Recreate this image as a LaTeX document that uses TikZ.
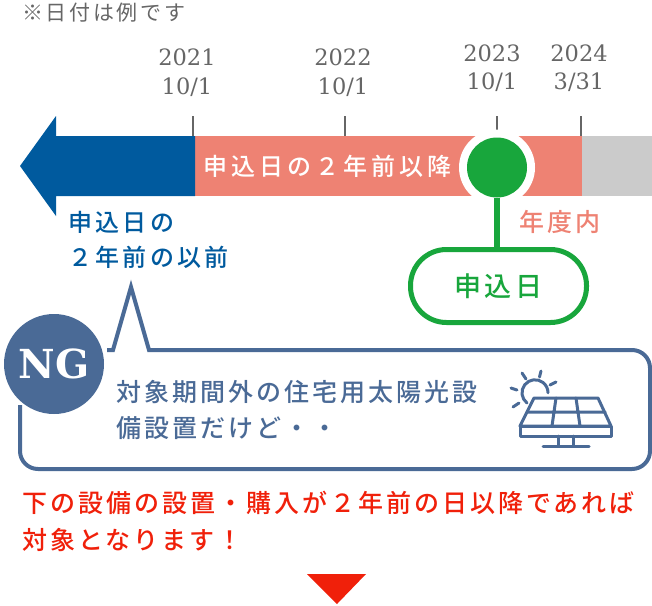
\documentclass[tikz,border=0pt]{standalone}
\usepackage{fontspec}
\setmainfont{Noto Sans CJK JP}
\newfontfamily\jpm{Noto Sans CJK JP Medium}
\newfontfamily\slab{DejaVu Serif}
\definecolor{grayt}{HTML}{666666}
\definecolor{blued}{HTML}{005A9E}
\definecolor{salmon}{HTML}{EE8273}
\definecolor{barg}{HTML}{CBCBCB}
\definecolor{greenm}{HTML}{18A63C}
\definecolor{slate}{HTML}{4A6A96}
\definecolor{redt}{HTML}{F0200A}
\newcommand{\jt}[3]{\fontsize{#1}{#2}\selectfont\addfontfeature{LetterSpace=#3}}
\tikzset{
  txt/.style={inner sep=0pt,outer sep=0pt},
  datelab/.style={txt,align=center,text=grayt,font=\slab\fontsize{22.5}{28.5}\selectfont},
  tick/.style={draw=grayt,line width=1.4pt},
  iconline/.style={draw=slate,line width=3pt,line cap=round,line join=round},
}
\begin{document}
\begin{tikzpicture}[x=1pt,y=-1pt]
\useasboundingbox (0,0) rectangle (652,605);
% note
\node[txt,anchor=west,text=grayt,font=\jt{21}{21}{13}] (note) at (22,13) {※日付は例です};
% dates
\node[datelab] (d21) at (187,72.5) {2021\\10/1};
\node[datelab] (d22) at (343,72.5) {2022\\10/1};
\node[datelab] (d23) at (492,68) {2023\\10/1};
\node[datelab] (d24) at (579,68) {2024\\3/31};
% ticks
\draw[tick] (193,116) -- (193,136);
\draw[tick] (345,116) -- (345,136);
\draw[tick] (497,116) -- (497,130);
\draw[tick] (581,116) -- (581,136);
% bars
\fill[barg] (582,136) rectangle (652,196);
\fill[salmon] (195,136) rectangle (582,196);
\fill[blued] (20,166) -- (56,116) -- (56,136) -- (195,136) -- (195,196) -- (56,196) -- (56,216) -- cycle;
\node[txt,anchor=west,text=white,font=\jpm\jt{24}{24}{17}] (barlab) at (203,166) {申込日の２年前以降};
% marker
\fill[white] (497,167.5) circle (38);
\node[circle,fill=greenm,minimum size=60pt,inner sep=0pt,outer sep=0pt] (mark) at (497,167.5) {};
\node[draw=greenm,line width=5pt,rounded corners=36pt,minimum width=176pt,minimum height=73pt,inner sep=0pt,fill=white,text=greenm,font=\jpm\jt{27}{27}{13}] (pill) at (498.5,286) {申込日};
\draw[greenm,line width=5.5pt] (mark.south) -- (mark.south |- pill.north);
\node[txt,anchor=west,text=salmon,font=\jpm\jt{25}{25}{12}] (nendo) at (519,222) {年度内};
\node[txt,anchor=west,align=left,text=blued,font=\jpm\jt{24}{35}{14}] (before) at (68,239.5) {申込日の\\ ２年前の以前};
% callout
\draw[slate,line width=4pt,line join=miter]
  (107,350) -- (113,350) -- (131,287) -- (149,350) [rounded corners=18pt] -- (650,350) -- (650,469) -- (20,469) -- (20,405);
\node[circle,fill=slate,minimum size=100pt,inner sep=0pt,text=white,font=\slab\bfseries\fontsize{40}{40}\selectfont] (ng) at (54,364) {NG};
\node[txt,anchor=west,align=left,text=slate,font=\jpm\jt{25}{36}{12}] (body) at (116,410) {対象期間外の住宅用太陽光設\\備設置だけど・・};
% icon
\draw[iconline] (522,373) -- (526,379) (541,371) -- (539.5,377) (556,382) -- (550,385) (511,388) -- (517,390) (513,407) -- (519,403);
\draw[iconline] (527,403) arc[start angle=128,end angle=360,radius=13];
\draw[iconline,fill=white] (534,398) -- (598,398) -- (611,426) -- (520,426) -- cycle;
\draw[iconline] (527,412) -- (605,412) (556,398) -- (552,426) (576,398) -- (580,426);
\draw[iconline] (520,426) rectangle (611,436);
\draw[iconline] (558,436) -- (558,446) (573,436) -- (573,446) (543,446) -- (589,446);
% red text
\node[txt,anchor=west,align=left,text=redt,font=\jpm\jt{25}{37}{12}] (note2) at (22,521.5) {下の設備の設置・購入が２年前の日以降であれば\\対象となります！};
% triangle
\fill[redt] (307,574) -- (366,574) -- (337,604) -- cycle;
\end{tikzpicture}
\end{document}
